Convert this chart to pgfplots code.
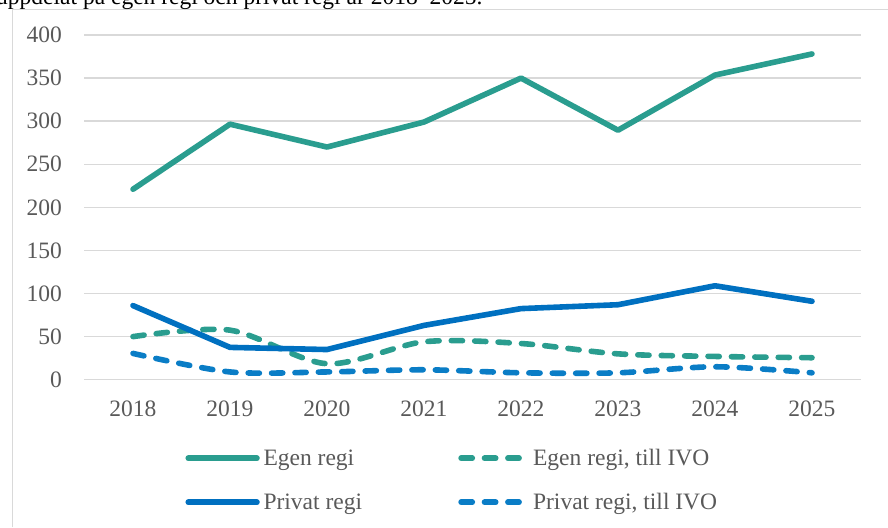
\documentclass[border=0pt]{standalone}
\usepackage{pgfplots}
\pgfplotsset{compat=1.18}
\usepackage{fontspec}
\setmainfont{Liberation Serif}
\definecolor{teal1}{HTML}{2A9D8F}
\definecolor{blue1}{HTML}{0070C0}
\definecolor{blue2}{HTML}{0A7DC6}
\definecolor{gridc}{HTML}{D9D9D9}
\definecolor{txt}{HTML}{595959}
\pgfplotsset{
  solidleg/.style={legend image code/.code={\path (0pt,0pt) (74.3pt,0pt); \draw[##1] (2.8pt,7.7pt) -- (71.5pt,7.7pt);}},
  dashleg/.style={legend image code/.code={\path (0pt,0pt) (71pt,0pt); \draw[##1] (2.8pt,7.7pt) -- (62.5pt,7.7pt);}},
}
\begin{document}
\begin{tikzpicture}[x=1pt,y=1pt]
\draw[gridc, line width=1.4pt] (12.5,0) -- (12.5,517.5) -- (888,517.5);
\node[anchor=base west, inner sep=0pt, font=\fontsize{23.5}{28}\selectfont] at (-4,522) {uppdelat på egen regi och privat regi år 2018–2025.};
\begin{axis}[
  at={(84.5pt,147.3pt)}, anchor=south west,
  scale only axis, width=776pt, height=344.7pt,
  xmin=2017.5, xmax=2025.5, ymin=0, ymax=400,
  xtick={2018,...,2025}, ytick={0,50,...,400},
  /pgf/number format/assume math mode=true,
  /pgf/number format/set thousands separator={},
  axis line style={draw=none}, tick style={draw=none},
  ymajorgrids, grid style={gridc, line width=1.4pt},
  ticklabel style={font=\fontsize{23.5}{28}\selectfont, text=txt},
  yticklabel style={anchor=east, inner sep=0pt, xshift=-22.5pt},
  xticklabel style={anchor=north, inner sep=0pt, yshift=-21pt},
  clip=false,
  legend columns=2,
  legend style={at={(0.1265,-0.201)}, anchor=north west, draw=none, fill=none,
    inner sep=0pt, outer sep=0pt,
    font=\fontsize{23.5}{28}\selectfont, text=txt,
    nodes={inner sep=0pt, text height=17pt, text depth=5pt, anchor=base west},
    /tikz/every odd column/.append style={column sep=1pt},
    /tikz/every even column/.append style={column sep=93.4pt},
    row sep=22pt},
  legend cell align=left,
  every axis plot/.append style={line cap=round, line join=round},
]
\addplot[teal1, line width=5.6pt, solidleg]
  coordinates {(2018,221) (2019,296.5) (2020,270) (2021,299) (2022,350) (2023,289.5) (2024,353.5) (2025,378)};
\addlegendentry{Egen regi}
\addplot[teal1, line width=5.6pt, smooth, dash pattern=on 11.2pt off 12.2pt, dashleg]
  coordinates {(2018,50) (2019,57.5) (2020,18.5) (2021,44) (2022,42) (2023,30) (2024,27) (2025,25.5)};
\addlegendentry{Egen regi, till IVO}
\addplot[blue1, line width=5.6pt, solidleg]
  coordinates {(2018,86) (2019,37.5) (2020,35) (2021,63) (2022,82.5) (2023,87) (2024,109) (2025,91)};
\addlegendentry{Privat regi}
\addplot[blue2, line width=5.6pt, smooth, dash pattern=on 11.2pt off 12.2pt, dashleg]
  coordinates {(2018,30.5) (2019,9) (2020,9) (2021,11.5) (2022,8) (2023,8) (2024,15) (2025,8)};
\addlegendentry{Privat regi, till IVO}
\end{axis}
\pgfresetboundingbox
\useasboundingbox (0,0) rectangle (888,527);
\end{tikzpicture}
\end{document}
